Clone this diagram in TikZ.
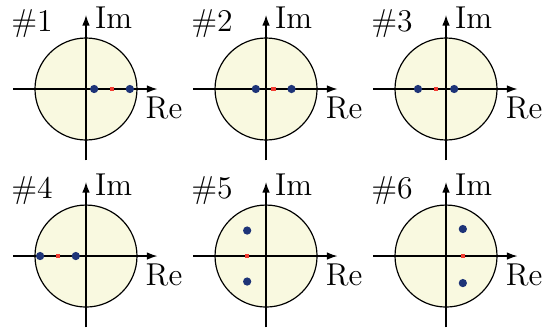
\documentclass[tikz,border=0pt]{standalone}
\usetikzlibrary{arrows.meta}
\usepackage{xcolor}
\definecolor{diskfill}{RGB}{249,249,224}
\definecolor{poleblue}{RGB}{30,52,120}
\definecolor{zerored}{RGB}{240,60,50}

\begin{document}
\begin{tikzpicture}[
    x=0.68cm, y=0.68cm,
    >={Latex[length=1.4mm,width=1.0mm]},
    font=\large,
    disk/.style={draw=black, fill=diskfill, line width=0.45pt},
    axis/.style={->, line width=0.45pt, black},
    pole/.style={circle, fill=poleblue, inner sep=0pt, minimum size=1.1mm},
    meanpt/.style={rectangle, fill=zerored, inner sep=0pt, minimum size=0.6mm},
    tag/.style={inner sep=0pt}
  ]
    \useasboundingbox (0,0) rectangle (10.725,6.451);
    % panel: number / centre / two poles / mean on real axis
    \foreach \n/\cx/\cy/\ax/\ay/\bx/\by/\mx in {
        1/1.686/4.706/0.16/0/0.86/0/0.51,
        2/5.216/4.706/-0.2/0/0.5/0/0.15,
        3/8.745/4.706/-0.55/0/0.16/0/-0.2,
        4/1.686/1.431/-0.9/0/-0.2/0/-0.55,
        5/5.216/1.431/-0.37/0.5/-0.37/-0.5/-0.37,
        6/8.745/1.431/0.33/0.53/0.33/-0.53/0.33}
    {
      \begin{scope}[shift={(\cx,\cy)}]
        \filldraw[disk] (0,0) circle (1);
        \draw[axis] (-1.43,0) -- (1.4,0);
        \draw[axis] (0,-1.4) -- (0,1.45);
        \node[tag, anchor=west] (im\n) at (0.17,1.4) {Im};
        \node[tag] (re\n) at (1.53,-0.37) {Re};
        \node[tag] (num\n) at (-1.06,1.29) {\#\n};
        \node[pole] (pa\n) at (\ax,\ay) {};
        \node[pole] (pb\n) at (\bx,\by) {};
        \node[meanpt] (m\n) at (\mx,0) {};
      \end{scope}
    }
\end{tikzpicture}
\end{document}
